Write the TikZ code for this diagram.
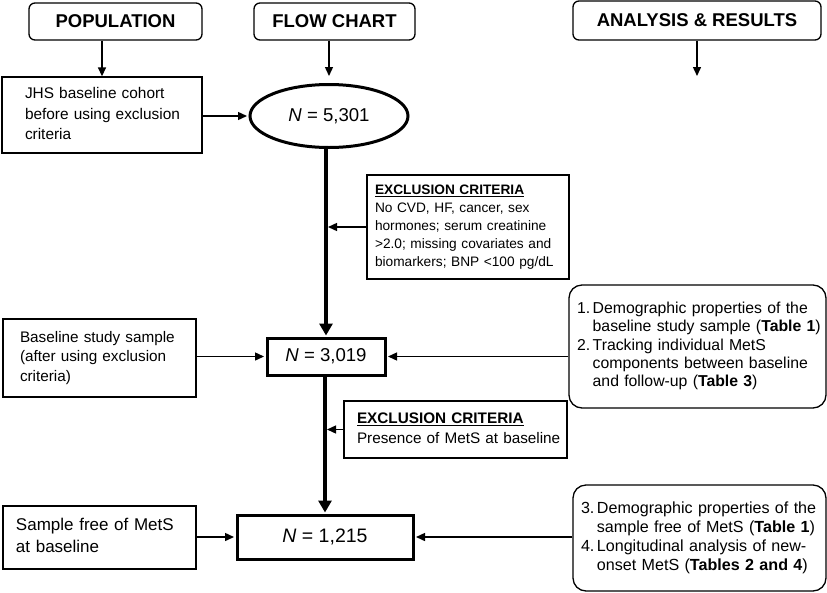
\documentclass[tikz,border=0pt]{standalone}
\usepackage{fontspec}
\setmainfont{Liberation Sans}
\usetikzlibrary{arrows.meta,shapes.geometric}
\begin{document}
\begin{tikzpicture}[x=1pt,y=-1pt,
  hdr/.style={draw,line width=1.3pt,rounded corners=6pt,inner sep=0pt,
    font=\fontsize{18.5}{22}\selectfont\bfseries},
  tbox/.style={draw,line width=1.3pt,inner ysep=0pt,align=left},
  nbox/.style={draw,line width=3pt,inner sep=0pt,font=\fontsize{18.6}{22}\selectfont},
  abox/.style={draw,line width=1.3pt,rounded corners=13pt,inner ysep=0pt,align=left},
  arr/.style={line width=1.4pt,-{Triangle[length=9pt,width=8pt]}},
  thick arr/.style={line width=4pt,-{Triangle[length=12pt,width=13pt]}}
]
\useasboundingbox (0,0) rectangle (827,592);
\fill[white] (0,0) rectangle (827,592);

% headers
\node[hdr,minimum width=173pt,minimum height=37pt] (pop) at (115.5,21.5) {POPULATION};
\node[hdr,minimum width=161pt,minimum height=37pt] (flow) at (334.5,21.5) {FLOW CHART};
\node[hdr,minimum width=248pt,minimum height=39pt] (ana) at (697,20.5) {ANALYSIS \& RESULTS};

% left column
\node[tbox,inner xsep=23pt,text width=154pt,minimum height=76pt,
  font=\fontsize{15.4}{20.5}\selectfont] (jhs) at (102,115)
  {\begin{tabular}{@{}l@{}}JHS baseline cohort\\before using exclusion\\criteria\end{tabular}};
\node[tbox,inner xsep=17pt,text width=159pt,minimum height=78pt,
  font=\fontsize{15.3}{19.5}\selectfont] (base) at (99.5,358)
  {\begin{tabular}{@{}l@{}}Baseline study sample\\(after using exclusion\\criteria)\end{tabular}};
\node[tbox,inner xsep=13pt,text width=167pt,minimum height=63pt,
  font=\fontsize{17}{22}\selectfont] (free) at (99.5,537.5)
  {\begin{tabular}{@{}l@{}}Sample free of MetS\\at baseline\end{tabular}};

% flow chart column
\node[draw,ellipse,line width=3pt,minimum width=158pt,minimum height=63pt,inner sep=0pt,
  font=\fontsize{18.6}{22}\selectfont] (n1) at (329,116) {\textit{N} = 5,301};
\node[nbox,minimum width=118pt,minimum height=37pt] (n2) at (326,356.5) {\textit{N} = 3,019};
\node[nbox,minimum width=176pt,minimum height=44pt,font=\fontsize{19.5}{22}\selectfont] (n3) at (325,537) {\textit{N} = 1,215};

\node[tbox,inner xsep=8pt,text width=186pt,minimum height=104pt,
  font=\fontsize{13.7}{18}\selectfont] (ex1) at (468,227)
  {\begin{tabular}{@{}l@{}}\underline{\textbf{EXCLUSION CRITERIA}}\\No CVD, HF, cancer, sex\\hormones; serum creatinine\\>2.0; missing covariates and\\biomarkers; BNP <100 pg/dL\end{tabular}};
\node[tbox,inner xsep=13pt,text width=197pt,minimum height=57pt,
  font=\fontsize{15.3}{20}\selectfont] (ex2) at (455.5,429.5)
  {\begin{tabular}{@{}l@{}}\underline{\textbf{EXCLUSION CRITERIA}}\\Presence of MetS at baseline\end{tabular}};

% analysis column
\node[abox,inner xsep=8pt,text width=241pt,minimum height=123pt,
  font=\fontsize{15.8}{18.3}\selectfont] (a1) at (697.5,346.5)
  {\begin{tabular}{@{}l@{\hspace{2.5pt}}l@{}}1.&Demographic properties of the\\&baseline study sample (\textbf{Table 1})\\2.&Tracking individual MetS\\&components between baseline\\&and follow-up (\textbf{Table 3})\end{tabular}};
\node[abox,inner xsep=8pt,text width=237pt,minimum height=106pt,
  font=\fontsize{16.1}{19}\selectfont] (a2) at (699.5,538)
  {\begin{tabular}{@{}l@{\hspace{2.5pt}}l@{}}3.&Demographic properties of the\\&sample free of MetS (\textbf{Table 1})\\4.&Longitudinal analysis of new-\\&onset MetS (\textbf{Tables 2 and 4})\end{tabular}};

\coordinate (anaend) at (ana.south |- 0,76);

% header arrows
\draw[arr] (pop.south -| jhs.north) -- (jhs.north);
\draw[arr,shorten >=7pt] (flow.south -| n1.north) -- (n1.north);
\draw[arr] (ana.south) -- (anaend);

% main flow
\draw[thick arr,shorten >=1pt] (n1.south -| n2.north) -- (n2.north);
\draw[thick arr,shorten >=1pt] (n2.south -| n3.north) -- (n3.north);

% side arrows
\draw[arr,shorten >=1.5pt] (jhs.east |- n1.west) -- (n1.west);
\draw[arr,shorten >=2pt] (ex1.west) -- (ex1.west -| n2.north);
\draw[arr,shorten >=2pt] (ex2.west) -- (ex2.west -| n3.north);
\draw[arr,shorten >=1.5pt] (base.east |- n2.west) -- (n2.west);
\draw[arr,shorten >=1.5pt] (a1.west |- n2.east) -- (n2.east);
\draw[arr,shorten >=1.5pt] (free.east |- n3.west) -- (n3.west);
\draw[arr,shorten >=1.5pt] (a2.west |- n3.east) -- (n3.east);
\end{tikzpicture}
\end{document}
